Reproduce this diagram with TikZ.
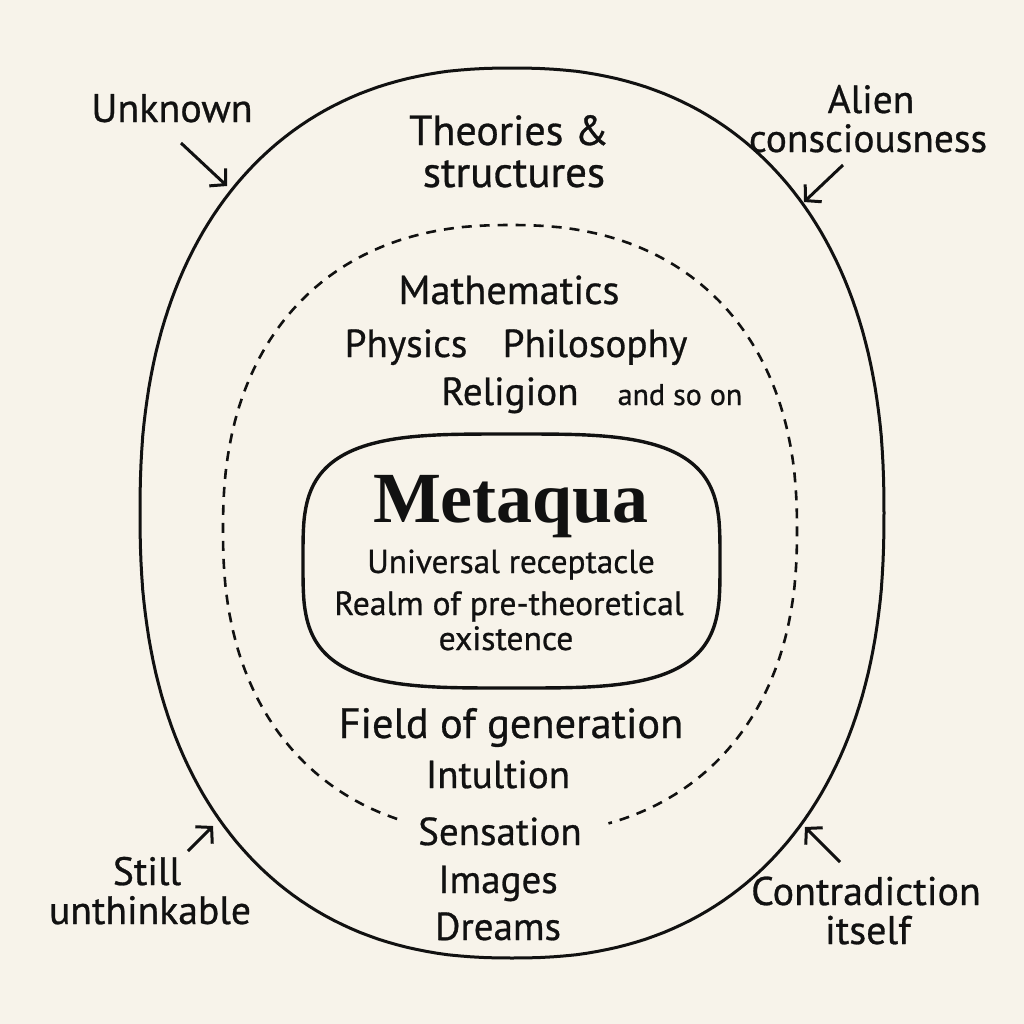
\documentclass[tikz,border=0pt]{standalone}
\usepackage{fontspec}
\setmainfont{PT Sans}[FakeBold=0.7]
\newfontfamily\metafont{Liberation Serif}
\usetikzlibrary{arrows.meta}
\definecolor{bg}{HTML}{F7F3EA}
\definecolor{ink}{HTML}{111111}
\tikzset{
  lbl/.style={font=\fontsize{#1}{#1}\selectfont, text=ink, inner sep=0pt, anchor=base},
  ring/.style={draw=ink, line width=1.5pt},
  dashring/.style={draw=ink, line width=1.3pt, dash pattern=on 5pt off 4pt},
  boxline/.style={draw=ink, line width=1.7pt},
  arr/.style={draw=ink, line width=1.5pt, -{Straight Barb[length=5.5pt,width=12pt,line width=1.5pt]}}
}
\begin{document}
\begin{tikzpicture}[x=0.5pt,y=-0.5pt]
\useasboundingbox (0,0) rectangle (1024,1024);
\fill[bg] (0,0) rectangle (1024,1024);
% outer ring (superellipse)
\draw[ring] plot[domain=0:360, samples=241] ({512+372*sign(cos(\x))*pow(abs(cos(\x))+0.000001,0.87)}, {513+445*sign(sin(\x))*pow(abs(sin(\x))+0.000001,0.87)}) -- cycle;
% dashed ring with gap at the bottom
\draw[dashring] plot[domain=110:433, samples=240] ({510+287*sign(cos(\x))*pow(abs(cos(\x))+0.000001,0.87)}, {530+305*sign(sin(\x))*pow(abs(sin(\x))+0.000001,0.87)});
% central rounded box
\draw[boxline] plot[domain=0:360, samples=241] ({511.5+208.5*sign(cos(\x))*pow(abs(cos(\x))+0.000001,0.57)}, {561+127*sign(sin(\x))*pow(abs(sin(\x))+0.000001,0.57)}) -- cycle;

% outside labels
\node[lbl=20pt] (unk) at (172,122) {Unknown};
\node[lbl=19.7pt] (al1) at (871,113) {Alien};
\node[lbl=19.7pt] (al2) at (868,152) {consciousness};
\node[lbl=19.8pt] (st1) at (147,885) {Still};
\node[lbl=19.8pt] (st2) at (150,924) {unthinkable};
\node[lbl=20pt] (co1) at (866,905) {Contradiction};
\node[lbl=20pt] (co2) at (868,944) {itself};

% arrows
\coordinate (unkS) at (181,143); \coordinate (unkT) at (227,186);
\coordinate (alS) at (843,165);  \coordinate (alT) at (804,202);
\coordinate (stS) at (188,851);  \coordinate (stT) at (213,826);
\coordinate (coS) at (840,862);  \coordinate (coT) at (805,827);
\draw[arr] (unkS) -- (unkT);
\draw[arr] (alS) -- (alT);
\draw[arr] (stS) -- (stT);
\draw[arr] (coS) -- (coT);

% ring labels
\node[lbl=21pt] (th1) at (509,145) {Theories \&};
\node[lbl=21.5pt] (th2) at (514,187) {structures};

% dashed region labels
\node[lbl=20.2pt] (math) at (509,304) {Mathematics};
\node[lbl=19.6pt] (phys) at (406,357) {Physics};
\node[lbl=19.6pt] (phil) at (595,357) {Philosophy};
\node[lbl=19.6pt] (rel) at (510,405) {Religion};
\node[lbl=15pt] (soon) at (680,405) {and so on};

% center
\node[lbl=36pt, font=\metafont\bfseries\fontsize{36pt}{36pt}\selectfont] (meta) at (511,522) {Metaqua};
\node[lbl=16.6pt] (univ) at (511,573) {Universal receptacle};
\node[lbl=16.8pt] (realm) at (509,615) {Realm of pre-theoretical};
\node[lbl=16.8pt] (exist) at (506,650) {existence};

% lower labels
\node[lbl=21.2pt] (field) at (511,738) {Field of generation};
\node[lbl=19.5pt] (intu) at (498,788) {Intultion};
\node[lbl=19.5pt] (sens) at (500,845) {Sensation};
\node[lbl=19.5pt] (img) at (498,893) {Images};
\node[lbl=19.5pt] (drm) at (498,940) {Dreams};
\end{tikzpicture}
\end{document}
